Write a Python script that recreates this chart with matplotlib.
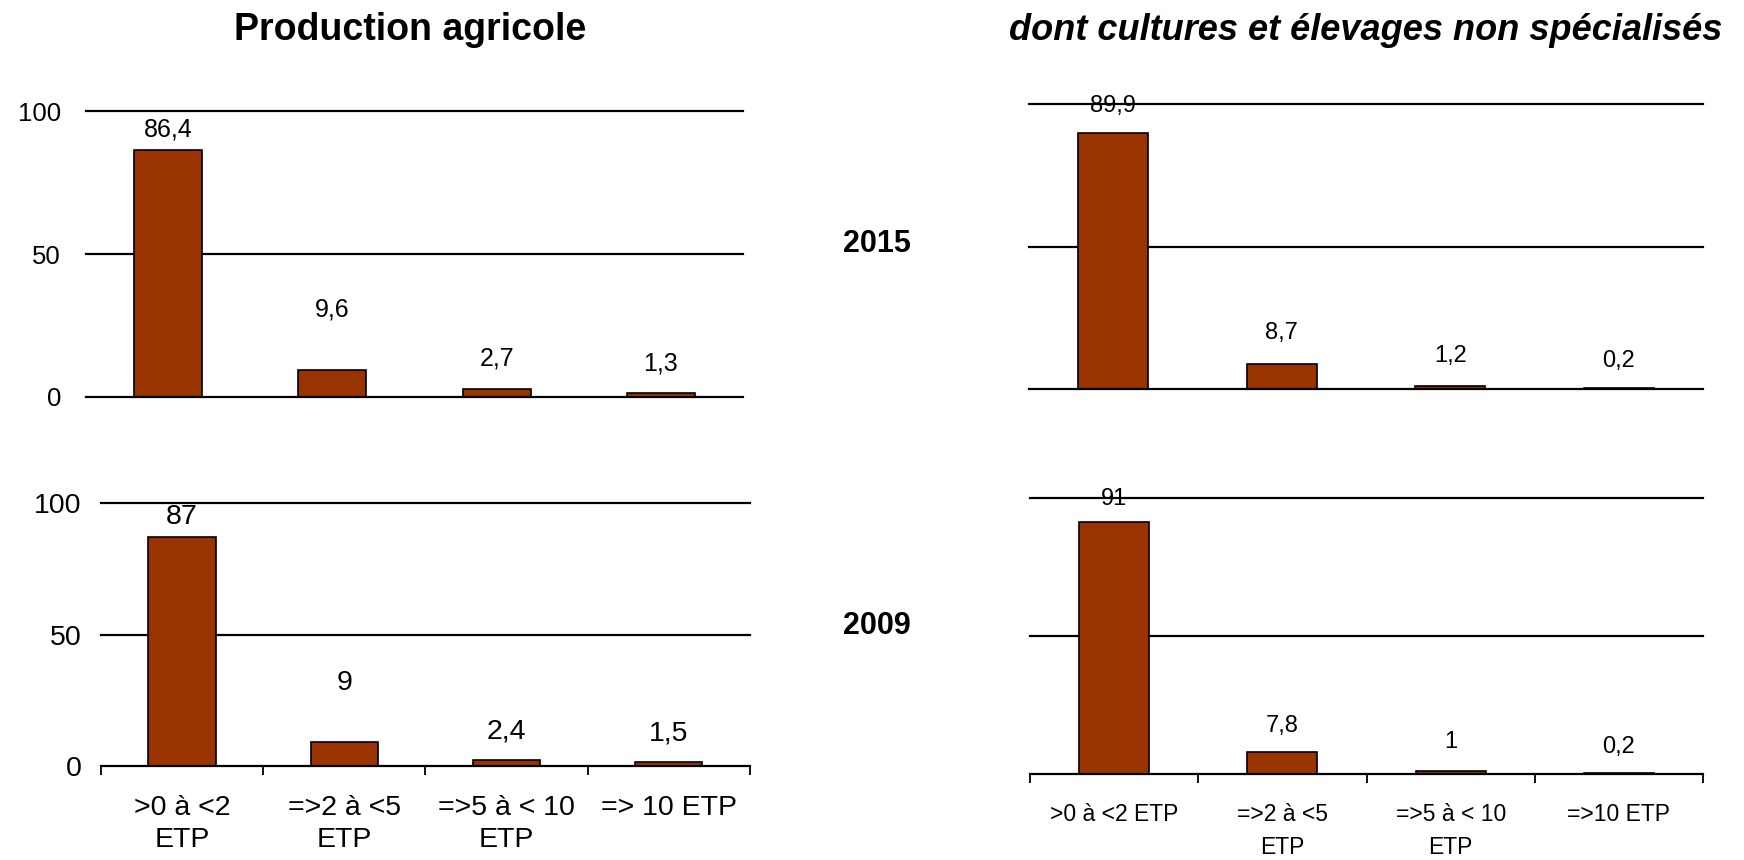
"""
Production agricole - répartition par taille (ETP), 2015 et 2009
"""

import matplotlib
matplotlib.use("Agg")
import matplotlib.pyplot as plt

# Categories (tick labels)
categories_left = [">0 à <2\nETP", "=>2 à <5\nETP", "=>5 à < 10\nETP", "=> 10 ETP"]
categories_right = [">0 à <2 ETP", "=>2 à <5\nETP", "=>5 à < 10\nETP", "=>10 ETP"]

# Values (%)
agri_2015 = [86.4, 9.6, 2.7, 1.3]
agri_2009 = [87, 9, 2.4, 1.5]
mixed_2015 = [89.9, 8.7, 1.2, 0.2]
mixed_2009 = [91, 7.8, 1, 0.2]

BAR_COLOR = "#993300"


def fr(v):
    # french decimal comma
    return ("%g" % v).replace(".", ",")


def draw_panel(ax, values, label_offsets, label_size, ytick_size=None, ypad=0,
               xlabels=None, xlabel_size=12, xpad=0, linespacing=1.2):
    x = range(len(values))
    ax.bar(x, values, width=0.415, color=BAR_COLOR, edgecolor="black",
           linewidth=1.2, zorder=3)
    for i, v in enumerate(values):
        ax.text(i, v + label_offsets[i], fr(v), ha="center", va="center",
                fontsize=label_size, zorder=4)

    ax.set_xlim(-0.5, len(values) - 0.5)
    ax.set_ylim(0, 100)
    for y in (50, 100):
        ax.axhline(y, color="black", linewidth=1.6, zorder=1, clip_on=False)

    for side in ("top", "right", "left"):
        ax.spines[side].set_visible(False)
    ax.spines["bottom"].set_linewidth(1.6)
    ax.spines["bottom"].set_zorder(5)

    ax.set_yticks([0, 50, 100])
    if ytick_size:
        ax.tick_params(axis="y", length=0, pad=ypad, labelsize=ytick_size)
    else:
        ax.tick_params(axis="y", length=0, labelleft=False)

    ax.set_xticks(list(x))
    if xlabels:
        ax.set_xticklabels(xlabels, fontsize=xlabel_size, linespacing=linespacing)
        ax.tick_params(axis="x", length=0, pad=xpad)
        ax.set_xticks([i - 0.5 for i in range(len(values) + 1)], minor=True)
        ax.tick_params(axis="x", which="minor", length=6.5, width=1.3,
                       direction="out", color="black")
    else:
        ax.tick_params(axis="x", length=0, labelbottom=False)


def main():
    plt.rcParams["font.family"] = ["Liberation Sans", "DejaVu Sans"]
    fig = plt.figure(figsize=(17.44, 8.6), dpi=100)

    ax_tl = fig.add_axes([0.0493, 0.5384, 0.3767, 0.3325])
    ax_bl = fig.add_axes([0.0579, 0.1093, 0.3721, 0.3058])
    ax_tr = fig.add_axes([0.5900, 0.5477, 0.3865, 0.3308])
    ax_br = fig.add_axes([0.5906, 0.1000, 0.3859, 0.3215])

    draw_panel(ax_tl, agri_2015, [7, 21, 10.6, 10.5], 18, ytick_size=18.5, ypad=18)
    draw_panel(ax_bl, agri_2009, [7.5, 22.6, 10.7, 10.7], 20.5, ytick_size=20.5, ypad=14,
               xlabels=categories_left, xlabel_size=20.5, xpad=21, linespacing=1.28)
    draw_panel(ax_tr, mixed_2015, [9.7, 11.1, 10.3, 9.7], 17)
    draw_panel(ax_br, mixed_2009, [8.6, 9.7, 10.5, 9.7], 17,
               xlabels=categories_right, xlabel_size=16.5, xpad=21, linespacing=1.55)

    # Titles and year labels
    fig.text(0.235, 0.965, "Production agricole", ha="center", va="center",
             fontsize=27, fontweight="bold")
    fig.text(0.783, 0.965, "dont cultures et élevages non spécialisés",
             ha="center", va="center", fontsize=26, fontweight="bold",
             fontstyle="italic")
    fig.text(0.503, 0.716, "2015", ha="center", va="center", fontsize=22,
             fontweight="bold")
    fig.text(0.503, 0.272, "2009", ha="center", va="center", fontsize=22,
             fontweight="bold")

    fig.savefig("out.png", dpi=100, facecolor="white")
    plt.close(fig)


if __name__ == "__main__":
    main()
